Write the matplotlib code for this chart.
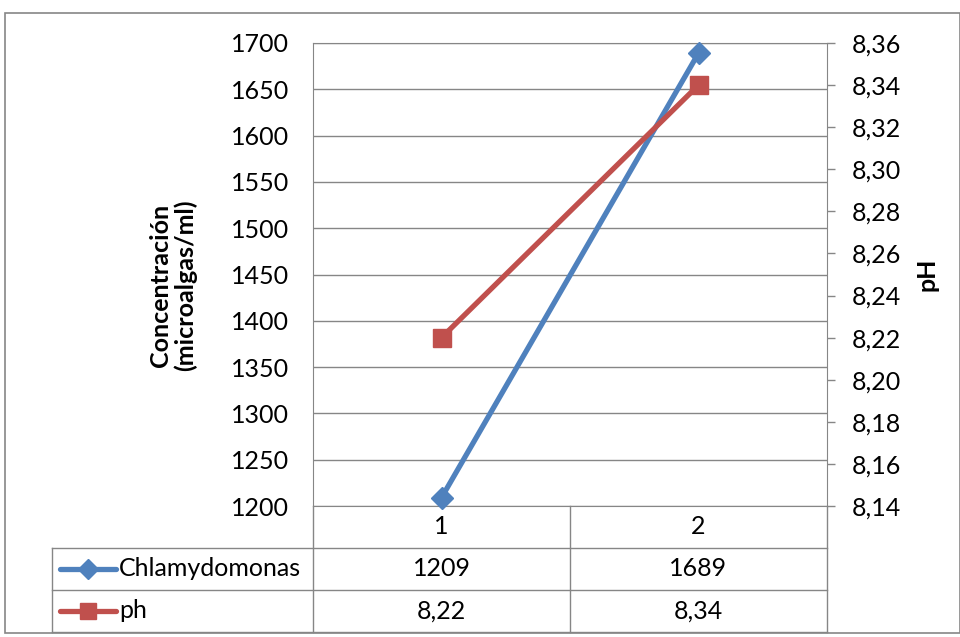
import matplotlib.pyplot as plt
from matplotlib.lines import Line2D
from matplotlib.patches import Rectangle
from matplotlib.ticker import FuncFormatter

# data
categories = ["1", "2"]
series_names = ["Chlamydomonas", "ph"]
chlamy = [1209, 1689]
ph = [8.22, 8.34]
ph_labels = ["8,22", "8,34"]
left_ticks = list(range(1200, 1701, 50))
right_ticks = [8.14, 8.16, 8.18, 8.20, 8.22, 8.24, 8.26, 8.28, 8.30, 8.32, 8.34, 8.36]

blue = "#4F81BD"
red = "#C0504D"
grey = "#868686"
fs = 18
lw = 3.8
blue_ms = 11
red_ms = 13.5

plt.rcParams["font.family"] = ["Lato", "DejaVu Sans"]

W, H = 960, 637
fig = plt.figure(figsize=(W / 100, H / 100), dpi=100)


def fx(px):
    return px / W


def fy(py):
    return 1 - py / H


x0, x1, y0, y1 = 313, 827, 43, 506
ax = fig.add_axes([fx(x0), fy(y1), fx(x1 - x0), fy(y0) - fy(y1)])
ax2 = ax.twinx()

xs = list(range(1, len(categories) + 1))
ax.set_xlim(0.5, len(categories) + 0.5)
ax.set_ylim(1200, 1700)
ax.set_yticks(left_ticks)
ax.yaxis.grid(True, color=grey, linewidth=1)
ax.set_axisbelow(True)
ax.tick_params(axis="y", length=0, pad=17, labelsize=fs)
ax.set_xticks([])
for s in ax.spines.values():
    s.set_color(grey)
ax.spines["right"].set_visible(False)

ax2.set_ylim(8.14, 8.36)
ax2.set_yticks(right_ticks)
ax2.yaxis.set_major_formatter(FuncFormatter(lambda v, p: f"{v:.2f}".replace(".", ",")))
ax2.tick_params(axis="y", length=6, width=1, color=grey, pad=12, labelsize=fs)
for s in ax2.spines.values():
    s.set_visible(False)
ax2.spines["right"].set_visible(True)
ax2.spines["right"].set_color(grey)

ax.plot(xs, chlamy, color=blue, linewidth=lw, marker="D", markersize=blue_ms,
        zorder=3, clip_on=False)
ax2.plot(xs, ph, color=red, linewidth=lw, marker="s", markersize=red_ms,
         zorder=3, clip_on=False)

ax.set_ylabel("Concentración\n(microalgas/ml)", fontsize=fs, fontweight="bold",
              linespacing=1.05)
ax.yaxis.set_label_coords(-0.226, 0.477)
ax2.set_ylabel("pH", fontsize=fs, fontweight="bold", labelpad=10, rotation=90)

# outer chart border
fig.add_artist(Rectangle((fx(5), fy(633)), fx(960 - 5), fy(13) - fy(633),
                         transform=fig.transFigure, fill=False,
                         edgecolor=grey, linewidth=1.2))

# data table under the plot
col_x = [x0 + i * (x1 - x0) / len(categories) for i in range(len(categories) + 1)]
row_y = [506, 548, 590, 632]
tbl_left = 52


def hline(y, xa, xb):
    fig.add_artist(Line2D([fx(xa), fx(xb)], [fy(y), fy(y)], color=grey, linewidth=1))


def vline(x, ya, yb):
    fig.add_artist(Line2D([fx(x), fx(x)], [fy(ya), fy(yb)], color=grey, linewidth=1))


hline(row_y[1], tbl_left, x1)
hline(row_y[2], tbl_left, x1)
hline(row_y[3], tbl_left, x1)
vline(tbl_left, row_y[1], row_y[3])
for cx in col_x:
    vline(cx, row_y[0], row_y[3])

for i, c in enumerate(categories):
    cx = (col_x[i] + col_x[i + 1]) / 2
    fig.text(fx(cx), fy((row_y[0] + row_y[1]) / 2), c, ha="center", va="center", fontsize=fs)
    fig.text(fx(cx), fy((row_y[1] + row_y[2]) / 2), str(chlamy[i]), ha="center", va="center", fontsize=fs)
    fig.text(fx(cx), fy((row_y[2] + row_y[3]) / 2), ph_labels[i], ha="center", va="center", fontsize=fs)

# legend keys inside the table rows
keys = [(series_names[0], blue, "D", blue_ms * 0.9, 1), (series_names[1], red, "s", red_ms * 0.9, 2)]
for name, col, mk, ms, r in keys:
    yc = fy((row_y[r] + row_y[r + 1]) / 2)
    fig.add_artist(Line2D([fx(60), fx(116)], [yc, yc], color=col, linewidth=lw,
                          solid_capstyle="round"))
    fig.add_artist(Line2D([fx(88)], [yc], color=col, marker=mk, markersize=ms, linestyle="none"))
    fig.text(fx(119), yc, name, ha="left", va="center", fontsize=fs)

fig.savefig("out.png", dpi=100)
